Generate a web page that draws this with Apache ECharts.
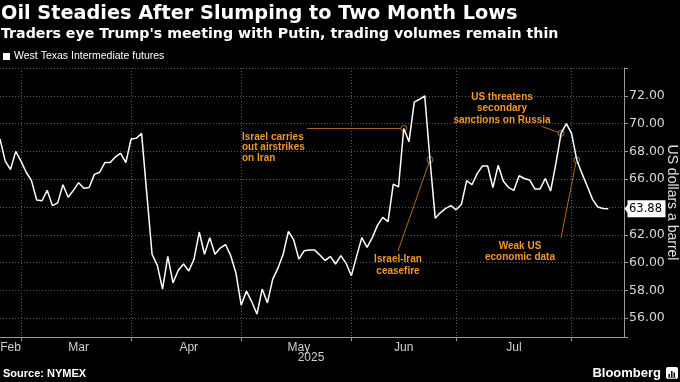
<!DOCTYPE html>
<html><head><meta charset="utf-8">
<script src="https://cdn.jsdelivr.net/npm/echarts@6/dist/echarts.min.js"></script>
<style>html,body{margin:0;padding:0;background:#000;}#c{width:680px;height:382px;}</style>
</head><body><div id="c"></div>
<script>
// ---- data ----
const startDate = '2025-02-24';
const endDate = '2025-08-14';
const holidays = ['2025-04-18', '2025-05-26', '2025-06-19', '2025-07-04'];
const monthLabels = ['Feb', 'Mar', 'Apr', 'May', 'Jun', 'Jul'];
const yTickValues = [56, 58, 60, 62, 64, 66, 68, 70, 72];
const seriesName = 'West Texas Intermediate futures';
const prices = [
  68.9, 67.3, 66.7, 68.0, 67.3, 66.5, 65.9, 64.5, 64.45, 65.2,
  64.1, 64.3, 65.6, 64.7, 65.2, 65.75, 65.35, 65.4, 66.35, 66.5,
  67.2, 67.2, 67.6, 67.85, 67.2, 68.9, 68.95, 69.3, 64.95, 60.6,
  59.8, 58.1, 60.45, 58.55, 59.45, 59.9, 59.4, 60.25, 62.2, 60.6,
  61.8, 60.6, 61.05, 61.3, 60.5, 59.25, 56.95, 57.95, 57.2, 56.3,
  58.1, 57.1, 58.8, 59.6, 60.6, 62.25, 61.65, 60.25, 60.85, 60.9,
  60.9, 60.55, 60.15, 60.45, 59.9, 60.5, 59.95, 59.05, 60.45, 61.8,
  61.1, 61.8, 62.7, 63.25, 62.95, 65.65, 65.45, 69.65, 68.7, 71.55,
  71.75, 72.0, 67.4, 63.2, 63.6, 63.9, 64.1, 63.8, 64.2, 65.9,
  65.6, 66.4, 66.95, 66.95, 65.4, 67.0, 65.85, 65.4, 65.2, 66.25,
  66.05, 65.95, 65.3, 65.3, 66.05, 65.15, 67.1, 69.3, 70.0, 69.3,
  67.38, 66.4, 65.5, 64.55, 64.0, 63.9, 63.88
];
const annotations = [
  { idx: 77, text: 'Israel carries\nout airstrikes\non Iran' },
  { idx: 82, text: 'Israel-Iran\nceasefire' },
  { idx: 107, text: 'US threatens\nsecondary\nsanctions on Russia' },
  { idx: 110, text: 'Weak US\neconomic data' }
];

// ---- trading-day categories ----
const dates = [];
(function () {
  let d = new Date(startDate + 'T00:00:00Z');
  const end = new Date(endDate + 'T00:00:00Z');
  while (d <= end) {
    const s = d.toISOString().slice(0, 10);
    const wd = d.getUTCDay();
    if (wd !== 0 && wd !== 6 && holidays.indexOf(s) < 0) dates.push(s);
    d = new Date(d.getTime() + 86400000);
  }
})();
const monthOf = s => +s.slice(5, 7);
const isMonthEnd = i => i < dates.length - 1 && monthOf(dates[i]) !== monthOf(dates[i + 1]);
const labelIdx = {};
(function () {
  let first = 0;
  for (let i = 0; i < dates.length; i++) {
    if (i === dates.length - 1 || monthOf(dates[i]) !== monthOf(dates[i + 1])) {
      const mi = monthOf(dates[i]);
      const name = ['Jan','Feb','Mar','Apr','May','Jun','Jul','Aug','Sep','Oct','Nov','Dec'][mi - 1];
      if (monthLabels.indexOf(name) >= 0) labelIdx[Math.floor((first + i) / 2)] = name;
      first = i + 1;
    }
  }
})();

const ORANGE = '#f0982a';
const LEADER = '#b36a1e';
const GRID = '#5a5a5a';
const last = prices[prices.length - 1];

const chart = echarts.init(document.getElementById('c'), null, { renderer: 'canvas' });
chart.setOption({
  backgroundColor: '#000',
  animation: false,
  title: {
    text: 'Oil Steadies After Slumping to Two Month Lows',
    subtext: "Traders eye Trump's meeting with Putin, trading volumes remain thin",
    left: 1, top: 4, padding: 0, itemGap: 4,
    textStyle: { color: '#fff', fontSize: 19.3, fontWeight: 'bold', fontFamily: 'DejaVu Sans' },
    subtextStyle: { color: '#fff', fontSize: 14.2, fontWeight: 'bold', fontFamily: 'DejaVu Sans' }
  },
  legend: {
    left: 3, top: 51, padding: 0, itemWidth: 7, itemHeight: 7, itemGap: 4,
    icon: 'rect',
    textStyle: { color: '#fff', fontSize: 10.5, fontFamily: 'Liberation Sans', padding: [0, 0, 0, -1] },
    data: [seriesName]
  },
  grid: { left: 0, right: 56, top: 68, bottom: 45, containLabel: false, outerBoundsMode: 'none' },
  xAxis: {
    type: 'category',
    data: dates,
    boundaryGap: false,
    axisLine: { lineStyle: { color: '#9a9a9a', width: 1 } },
    axisTick: { show: true, interval: (i) => isMonthEnd(i), length: 4, lineStyle: { color: '#9a9a9a' } },
    axisLabel: {
      interval: (i) => labelIdx[i] !== undefined,
      formatter: (v, i) => labelIdx[i] || '',
      color: '#d0d0d0', fontSize: 12, fontFamily: 'Liberation Sans', margin: 5
    },
    splitLine: { show: true, interval: (i) => isMonthEnd(i), lineStyle: { color: GRID, type: [1, 2], width: 1 } }
  },
  yAxis: {
    type: 'value',
    position: 'right',
    min: 54.65, max: 74,
    splitNumber: 10, minInterval: 2, maxInterval: 2,
    axisLine: { show: true, lineStyle: { color: '#9a9a9a' } },
    axisTick: { show: true, length: 4, lineStyle: { color: '#9a9a9a' } },
    axisLabel: {
      color: '#d8d8d8', fontSize: 12.5, fontFamily: 'DejaVu Sans', margin: 5,
      formatter: v => (yTickValues.indexOf(Math.round(v * 100) / 100) >= 0 ? v.toFixed(2) : '')
    },
    splitLine: { show: true, lineStyle: { color: GRID, type: [1, 2], width: 1 } },
    name: 'US dollars a barrel',
    nameLocation: 'middle', nameRotate: -90, nameGap: 41, nameMoveOverlap: false,
    nameTextStyle: { color: '#e0e0e0', fontSize: 14, fontFamily: 'Liberation Sans' }
  },
  series: [{
    name: seriesName,
    type: 'line',
    data: prices,
    symbol: 'none',
    color: '#ffffff',
    lineStyle: { color: '#ffffff', width: 1.5 }
  }]
});

// ---- annotations, tag, footer ----
const px = (i, v) => chart.convertToPixel({ seriesIndex: 0 }, [i, v]);
const anchors = annotations.map(a => px(a.idx, prices[a.idx]));
const tFont = 'bold 10px "Liberation Sans"';
const g = [];
g.push({ type: 'text', x: 242, y: 132, style: { text: annotations[0].text, fill: ORANGE, font: tFont, textAlign: 'left', textVerticalAlign: 'top', lineHeight: 10.3 } });
g.push({ type: 'line', shape: { x1: 307, y1: anchors[0][1], x2: anchors[0][0] - 3, y2: anchors[0][1] }, style: { stroke: LEADER, lineWidth: 1 } });
g.push({ type: 'text', x: 398, y: 254, style: { text: annotations[1].text, fill: ORANGE, font: tFont, textAlign: 'center', textVerticalAlign: 'top', lineHeight: 11.3 } });
g.push({ type: 'line', shape: { x1: 398, y1: 251, x2: anchors[1][0] - 1, y2: anchors[1][1] + 3 }, style: { stroke: LEADER, lineWidth: 1 } });
g.push({ type: 'text', x: 502, y: 91, style: { text: annotations[2].text, fill: ORANGE, font: tFont, textAlign: 'center', textVerticalAlign: 'top', lineHeight: 11.5 } });
g.push({ type: 'line', shape: { x1: 542, y1: 126.5, x2: anchors[2][0] - 3, y2: anchors[2][1] - 1 }, style: { stroke: LEADER, lineWidth: 1 } });
g.push({ type: 'text', x: 520, y: 240, style: { text: annotations[3].text, fill: ORANGE, font: tFont, textAlign: 'center', textVerticalAlign: 'top', lineHeight: 11.5 } });
g.push({ type: 'line', shape: { x1: 561, y1: 238, x2: anchors[3][0] - 1, y2: anchors[3][1] + 3 }, style: { stroke: LEADER, lineWidth: 1 } });
anchors.forEach(p => g.push({ type: 'circle', shape: { cx: p[0], cy: p[1], r: 3 }, style: { fill: 'none', stroke: LEADER, lineWidth: 1 } }));
// last-value tag on the axis (drawn above the axis labels)
const lp = px(prices.length - 1, last);
const axisX = chart.convertToPixel({ xAxisIndex: 0 }, dates.length - 1);
g.push({ type: 'polygon', z: 100, shape: { points: [[axisX + 0.5, lp[1]], [axisX + 4, lp[1] - 4.5], [axisX + 4, lp[1] + 4.5]] }, style: { fill: '#fff' } });
g.push({ type: 'rect', z: 100, shape: { x: axisX + 3.5, y: lp[1] - 8.5, width: 38, height: 17 }, style: { fill: '#fff' } });
g.push({ type: 'text', z: 101, x: axisX + 21.5, y: lp[1] + 0.5, style: { text: last.toFixed(2), fill: '#000', font: '11.5px "DejaVu Sans"', textAlign: 'center', textVerticalAlign: 'middle' } });
g.push({ type: 'text', x: 311, y: 352, style: { text: '2025', fill: '#d0d0d0', font: '12px "Liberation Sans"', textAlign: 'center', textVerticalAlign: 'top' } });
g.push({ type: 'text', x: 3, y: 374, style: { text: 'Source: NYMEX', fill: '#fff', font: 'bold 11px "Liberation Sans"', textAlign: 'left', textVerticalAlign: 'middle' } });
g.push({ type: 'text', x: 661, y: 373.5, style: { text: 'Bloomberg', fill: '#fff', font: 'bold 13px "Liberation Sans"', textAlign: 'right', textVerticalAlign: 'middle' } });
g.push({ type: 'rect', shape: { x: 666, y: 367, width: 12, height: 12, r: 2 }, style: { fill: '#fff' } });
[[668.5, 374, 1.5, 3], [671, 371, 1.5, 6], [673.5, 372.5, 1.5, 4.5]].forEach(b => g.push({ type: 'rect', shape: { x: b[0], y: b[1], width: b[2], height: b[3] }, style: { fill: '#000' } }));
g.push({ type: 'rect', shape: { x: 668, y: 377.5, width: 8, height: 0.8 }, style: { fill: '#000' } });
chart.setOption({ graphic: g });
</script>
</body></html>
